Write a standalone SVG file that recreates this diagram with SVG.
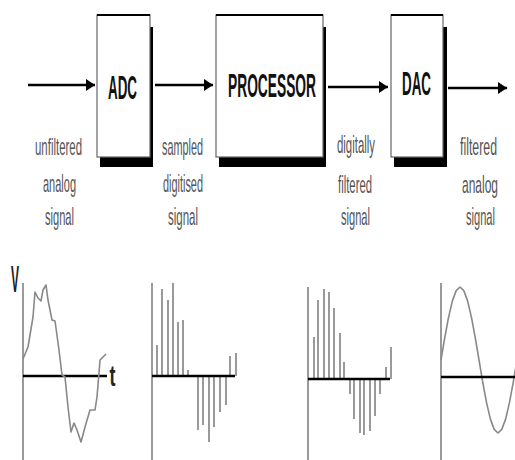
<svg xmlns="http://www.w3.org/2000/svg" width="515" height="460" viewBox="0 0 515 460">
<style>
.shadow{fill:#000}
.box{fill:#fff;stroke:#666;stroke-width:1.2}
.boxtop{stroke:#000;stroke-width:2.2}
.title{font-family:"Liberation Sans",Arial,sans-serif;font-weight:bold;font-size:34px;fill:#111;text-anchor:middle}
.lbl{font-family:"Liberation Sans",Arial,sans-serif;font-size:24px;fill:#555;text-anchor:middle}
.conn{stroke:#000;stroke-width:2.5;fill:none}
.vax{stroke:#9a9a9a;stroke-width:2;fill:none}
.hax{stroke:#000;stroke-width:2.5;fill:none}
.wave{stroke:#888;stroke-width:1.6;fill:none;stroke-linejoin:round}
.bar{stroke:#9a9a9a;stroke-width:2}
.axl{font-family:"Liberation Sans",Arial,sans-serif;font-weight:bold;fill:#222;text-anchor:middle}
</style>
<defs>
<marker id="ah" markerUnits="userSpaceOnUse" markerWidth="10" markerHeight="12" refX="9" refY="6" orient="auto">
<path d="M0,0 L9,6 L0,12 z" fill="#000"/>
</marker>
</defs>

<g id="connectors">
<line class="conn" x1="28" y1="85" x2="95" y2="85" marker-end="url(#ah)"/>
<line class="conn" x1="155" y1="85" x2="213" y2="85" marker-end="url(#ah)"/>
<line class="conn" x1="328" y1="87" x2="388" y2="87" marker-end="url(#ah)"/>
<line class="conn" x1="448" y1="88" x2="507" y2="88" marker-end="url(#ah)"/>
</g>

<g id="adc">
<rect class="shadow" x="100" y="27" width="53" height="140"/>
<rect class="box" x="97" y="15" width="53" height="142"/>
<line class="boxtop" x1="97" y1="15" x2="150" y2="15"/>
<text class="title" transform="translate(122.5,99) scale(0.394,1)">ADC</text>
</g>

<g id="processor">
<rect class="shadow" x="219" y="27" width="107" height="140"/>
<rect class="box" x="216" y="15" width="107" height="142"/>
<line class="boxtop" x1="216" y1="15" x2="323" y2="15"/>
<text class="title" transform="translate(272,97) scale(0.405,1)">PROCESSOR</text>
</g>

<g id="dac">
<rect class="shadow" x="394" y="27" width="53" height="140"/>
<rect class="box" x="391" y="15" width="52" height="142"/>
<line class="boxtop" x1="391" y1="15" x2="443" y2="15"/>
<text class="title" transform="translate(416.5,95) scale(0.394,1)">DAC</text>
</g>

<g id="label-unfiltered">
<text class="lbl" transform="translate(58.5,155) scale(0.476,1)">unfiltered</text>
<text class="lbl" transform="translate(59.5,192) scale(0.458,1)">analog</text>
<text class="lbl" transform="translate(59.5,225) scale(0.463,1)">signal</text>
</g>
<g id="label-sampled">
<text class="lbl" transform="translate(182.5,155) scale(0.452,1)">sampled</text>
<text class="lbl" transform="translate(183,192) scale(0.454,1)">digitised</text>
<text class="lbl" transform="translate(183,225) scale(0.479,1)">signal</text>
</g>
<g id="label-digitally">
<text class="lbl" transform="translate(356,153) scale(0.475,1)">digitally</text>
<text class="lbl" transform="translate(355,193) scale(0.472,1)">filtered</text>
<text class="lbl" transform="translate(355.5,225) scale(0.463,1)">signal</text>
</g>
<g id="label-filtered">
<text class="lbl" transform="translate(478.5,155) scale(0.514,1)">filtered</text>
<text class="lbl" transform="translate(480,193) scale(0.5,1)">analog</text>
<text class="lbl" transform="translate(480.5,225) scale(0.463,1)">signal</text>
</g>

<g id="graph-analog-in">
<line class="vax" x1="23" y1="283" x2="23" y2="460"/>
<line class="hax" x1="23" y1="376" x2="107" y2="376"/>
<polyline class="wave" points="23,359 28,347 33,317 35,292 38,298 41,301 43,290 46,285 48,300 52,320 55,321 59,350 62,375 65,377 68,407 71,432 74,423 77,430 81,442 85,427 90,410 95,410 97,397 99,373 100,360 103,357 106,354"/>
<text class="axl" font-size="36" transform="translate(15,292) scale(0.333,1)">V</text>
<text class="axl" font-size="30" transform="translate(112.5,386) scale(0.6,1)">t</text>
</g>

<g id="graph-sampled">
<line class="vax" x1="152" y1="283" x2="152" y2="460"/>
<g class="bar">
<line x1="157" y1="376" x2="157" y2="345"/>
<line x1="162" y1="376" x2="162" y2="289"/>
<line x1="168" y1="376" x2="168" y2="300"/>
<line x1="173" y1="376" x2="173" y2="283"/>
<line x1="178" y1="376" x2="178" y2="322"/>
<line x1="183" y1="376" x2="183" y2="320"/>
<line x1="188" y1="376" x2="188" y2="370"/>
<line x1="198" y1="376" x2="198" y2="430"/>
<line x1="203" y1="376" x2="203" y2="425"/>
<line x1="209" y1="376" x2="209" y2="442"/>
<line x1="214" y1="376" x2="214" y2="427"/>
<line x1="220" y1="376" x2="220" y2="412"/>
<line x1="226" y1="376" x2="226" y2="405"/>
<line x1="230" y1="376" x2="230" y2="356"/>
<line x1="236" y1="376" x2="236" y2="353"/>
</g>
<line class="hax" x1="152" y1="376" x2="235" y2="376"/>
</g>

<g id="graph-filtered">
<line class="vax" x1="308" y1="287" x2="308" y2="460"/>
<g class="bar">
<line x1="314" y1="379" x2="314" y2="337"/>
<line x1="318" y1="379" x2="318" y2="300"/>
<line x1="324" y1="379" x2="324" y2="289"/>
<line x1="329" y1="379" x2="329" y2="292"/>
<line x1="334" y1="379" x2="334" y2="308"/>
<line x1="340" y1="379" x2="340" y2="333"/>
<line x1="344" y1="379" x2="344" y2="362"/>
<line x1="350" y1="379" x2="350" y2="394"/>
<line x1="354" y1="379" x2="354" y2="419"/>
<line x1="360" y1="379" x2="360" y2="433"/>
<line x1="364" y1="379" x2="364" y2="435"/>
<line x1="370" y1="379" x2="370" y2="431"/>
<line x1="375" y1="379" x2="375" y2="416"/>
<line x1="380" y1="379" x2="380" y2="394"/>
<line x1="386" y1="379" x2="386" y2="367"/>
<line x1="391" y1="379" x2="391" y2="347"/>
</g>
<line class="hax" x1="308" y1="379" x2="390" y2="379"/>
</g>

<g id="graph-analog-out">
<line class="vax" x1="441" y1="283" x2="441" y2="460"/>
<polyline class="wave" points="441,360 444.8,337.4 448.6,317.1 452.4,300.9 456.2,290.6 460,287 463.8,290.6 467.6,300.9 471.4,317.1 475.2,337.4 479,360 482.8,382.6 486.6,402.9 490.4,419.1 494.2,429.4 498,433 501.8,429.4 505.6,419.1 509.4,402.9 513.2,382.6 517,360"/>
<line class="hax" x1="441" y1="377" x2="515" y2="377"/>
</g>
</svg>
